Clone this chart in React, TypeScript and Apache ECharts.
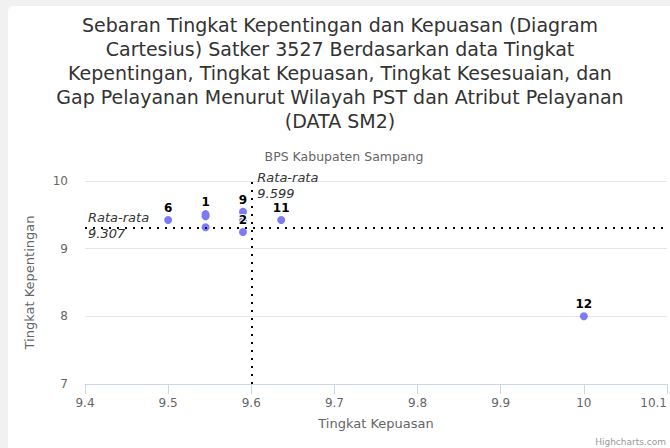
import React, { useEffect, useRef } from "react";
import * as echarts from "echarts";

const pointNames = ["6", "1", "", "", "9", "", "2", "11", "12"];
const kepuasan = [9.5, 9.545, 9.545, 9.545, 9.59, 9.59, 9.59, 9.636, 10.0];
const kepentingan = [9.423, 9.51, 9.48, 9.316, 9.546, 9.413, 9.246, 9.423, 8.0];
const meanKepuasan = 9.599;
const meanKepentingan = 9.307;
const xTicks = { min: 9.4, max: 10.1, interval: 0.1 };
const yTicks = { min: 7, max: 10, interval: 1 };

const titleText =
  "Sebaran Tingkat Kepentingan dan Kepuasan (Diagram\nCartesius) Satker 3527 Berdasarkan data Tingkat\nKepentingan, Tingkat Kepuasan, Tingkat Kesesuaian, dan\nGap Pelayanan Menurut Wilayah PST dan Atribut Pelayanan\n(DATA SM2)";
const subtitleText = "BPS Kabupaten Sampang";
const FONT = "'DejaVu Sans', 'Noto Sans', sans-serif";

const meanRich = {
  a: { fontStyle: "italic", fontSize: 13, lineHeight: 16, color: "#333", fontFamily: FONT },
  b: { fontSize: 4, lineHeight: 4 },
  c: { fontSize: 8, lineHeight: 9 },
};

export default function App() {
  const ref = useRef<HTMLDivElement>(null);
  useEffect(() => {
    if (!ref.current) return;
    const chart = echarts.init(ref.current, undefined, { renderer: "svg" });
    const data = kepuasan.map((x, i) => ({ name: pointNames[i], value: [x, kepentingan[i]] }));
    chart.setOption({
      animation: false,
      textStyle: { fontFamily: FONT },
      title: [
        {
          text: titleText,
          left: 327,
          top: 2,
          textAlign: "center",
          textStyle: { fontSize: 19, fontWeight: "normal", color: "#333", lineHeight: 24, fontFamily: FONT },
        },
        {
          text: subtitleText,
          left: 331,
          top: 139,
          textAlign: "center",
          textStyle: { fontSize: 12.5, fontWeight: "normal", color: "#666", fontFamily: FONT },
        },
      ],
      graphic: [
        {
          type: "text",
          right: 4,
          bottom: 2,
          style: { text: "Highcharts.com", fontSize: 9, fill: "#999", fontFamily: FONT },
        },
      ],
      grid: { left: 77, right: 0, top: 175, bottom: 64 },
      xAxis: {
        type: "value",
        min: xTicks.min,
        max: xTicks.max,
        interval: xTicks.interval,
        name: "Tingkat Kepuasan",
        nameLocation: "middle",
        nameGap: 33,
        nameTextStyle: { fontSize: 13, color: "#666", fontFamily: FONT },
        axisLine: { show: true, lineStyle: { color: "#ccd6eb", width: 1 } },
        axisTick: { show: true, length: 10, lineStyle: { color: "#ccd6eb" } },
        splitLine: { show: false },
        axisLabel: {
          color: "#666",
          fontSize: 12,
          margin: 13,
          fontFamily: FONT,
          alignMaxLabel: "right",
          formatter: (v: number) => String(Math.round(v * 10) / 10),
        },
      },
      yAxis: {
        type: "value",
        min: yTicks.min,
        max: yTicks.max,
        interval: yTicks.interval,
        name: "Tingkat Kepentingan",
        nameLocation: "middle",
        nameGap: 49,
        nameTextStyle: { fontSize: 13, color: "#666", fontFamily: FONT },
        axisLine: { show: false },
        axisTick: { show: false },
        splitLine: { show: true, lineStyle: { color: "#e6e6e6", width: 1 } },
        axisLabel: { color: "#666", fontSize: 12, margin: 17, fontFamily: FONT },
      },
      series: [
        {
          type: "scatter",
          data,
          symbol: "circle",
          symbolSize: 8,
          itemStyle: { color: "#7b7bf7", opacity: 1 },
          label: {
            show: true,
            position: "top",
            distance: 2,
            formatter: (p: any) => p.name,
            fontSize: 12,
            fontWeight: "bold",
            color: "#000",
            textBorderColor: "#fff",
            textBorderWidth: 2,
            fontFamily: FONT,
          },
          markLine: {
            silent: true,
            symbol: ["none", "none"],
            lineStyle: { color: "#000", width: 2, type: [2, 6] },
            data: [
              {
                yAxis: meanKepentingan,
                label: {
                  show: true,
                  position: "start",
                  distance: 0,
                  align: "left",
                  verticalAlign: "middle",
                  padding: [0, 0, 0, 3],
                  formatter: "{a|Rata-rata}\n{a|" + meanKepentingan + "}\n{b| }",
                  rich: meanRich,
                },
              },
              {
                xAxis: meanKepuasan,
                label: {
                  show: true,
                  position: "end",
                  distance: 0,
                  align: "left",
                  verticalAlign: "middle",
                  padding: [0, 0, 0, 6],
                  formatter: "{c| }\n{a|Rata-rata}\n{a|" + meanKepuasan + "}",
                  rich: meanRich,
                },
              },
            ],
          },
        },
      ],
    });
    return () => chart.dispose();
  }, []);

  return (
    <div
      style={{
        position: "fixed",
        left: 0,
        top: 0,
        width: 670,
        height: 448,
        background: "#f1f1f1",
        overflow: "hidden",
      }}
    >
      <div
        style={{
          position: "absolute",
          left: 8,
          top: 6,
          width: 662,
          height: 442,
          background: "#fff",
          borderTopLeftRadius: 5,
        }}
      >
        <div ref={ref} style={{ width: 662, height: 442 }} />
      </div>
    </div>
  );
}
